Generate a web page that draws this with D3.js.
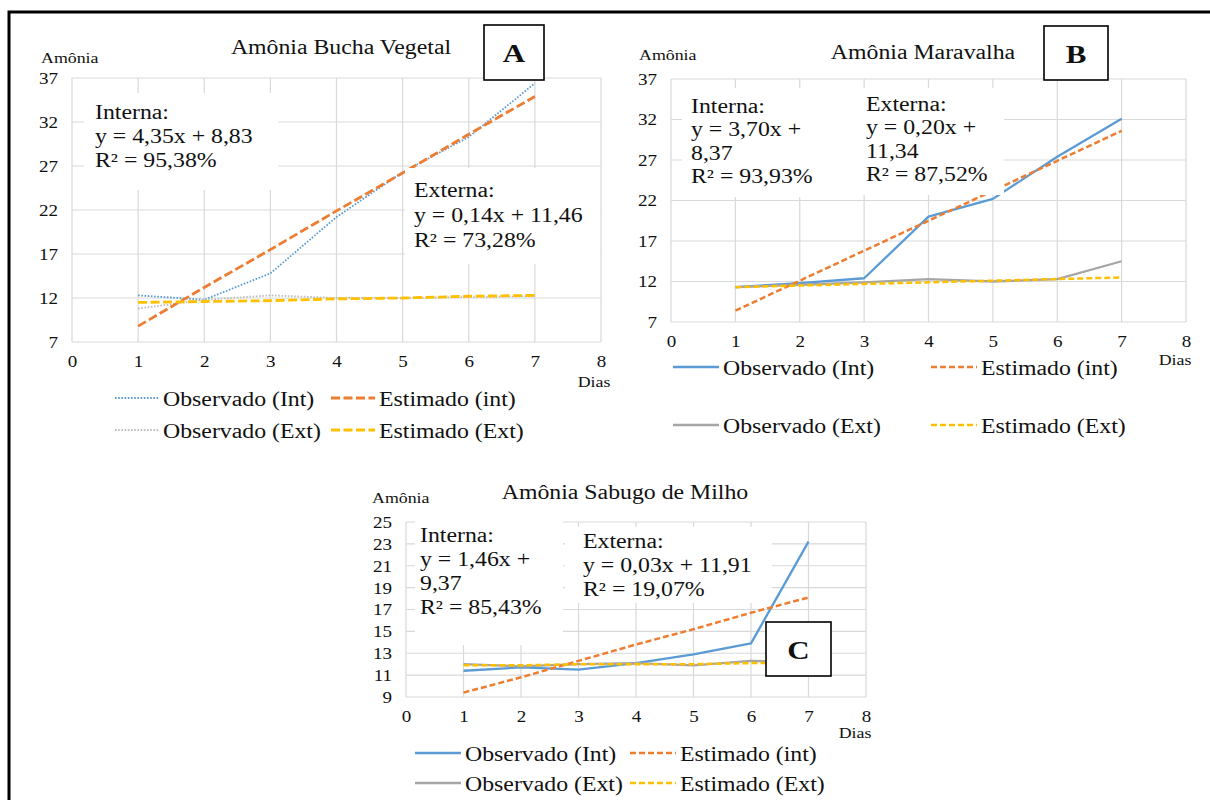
<!DOCTYPE html>
<html>
<head>
<meta charset="utf-8">
<script src="https://cdn.jsdelivr.net/npm/d3@7"></script>
<style>
  html, body { margin: 0; padding: 0; background: #fff; }
  svg text { font-family: "Liberation Serif", "Times New Roman", serif; fill: #111; }
</style>
</head>
<body>
<svg id="chart" width="1210" height="800"></svg>
<script>
// values
const days = [1, 2, 3, 4, 5, 6, 7]
const xTicks = [0, 1, 2, 3, 4, 5, 6, 7, 8]
const yTicksAB = [7, 12, 17, 22, 27, 32, 37]
const yTicksC = [9, 11, 13, 15, 17, 19, 21, 23, 25]

const seriesNames = ["Observado (Int)", "Estimado (int)", "Observado (Ext)", "Estimado (Ext)"]

const titleA = "Amônia Bucha Vegetal"
const obsIntA = [12.3, 11.8, 14.8, 21.2, 26.3, 30.3, 36.4]
const estIntA = [8.8, 13.2, 17.5, 21.9, 26.2, 30.6, 34.9]
const obsExtA = [10.8, 11.8, 12.3, 12.0, 12.0, 12.1, 12.2]
const estExtA = [11.5, 11.6, 11.7, 11.9, 12.0, 12.2, 12.3]
const internaA = ["Interna:", "y = 4,35x + 8,83", "R² = 95,38%"]
const externaA = ["Externa:", "y = 0,14x + 11,46", "R² = 73,28%"]

const titleB = "Amônia Maravalha"
const obsIntB = [11.3, 11.8, 12.4, 20.0, 22.2, 27.4, 32.1]
const estIntB = [8.4, 12.1, 15.8, 19.5, 23.2, 26.9, 30.6]
const obsExtB = [11.3, 11.6, 11.9, 12.3, 12.0, 12.3, 14.5]
const estExtB = [11.3, 11.5, 11.7, 11.9, 12.1, 12.3, 12.5]
const internaB = ["Interna:", "y = 3,70x +", "8,37", "R² = 93,93%"]
const externaB = ["Externa:", "y = 0,20x +", "11,34", "R² = 87,52%"]

const titleC = "Amônia Sabugo de Milho"
const obsIntC = [11.4, 11.7, 11.5, 12.1, 12.9, 13.9, 23.2]
const estIntC = [9.4, 10.8, 12.3, 13.8, 15.2, 16.7, 18.1]
const obsExtC = [12.0, 11.8, 12.0, 12.1, 11.9, 12.3, 12.2]
const estExtC = [11.9, 11.9, 12.0, 12.0, 12.0, 12.1, 12.1]
const internaC = ["Interna:", "y = 1,46x +", "9,37", "R² = 85,43%"]
const externaC = ["Externa:", "y = 0,03x + 11,91", "R² = 19,07%"]

const colors = { obsInt: "#5B9BD5", estInt: "#ED7D31", obsExt: "#A5A5A5", estExt: "#FFC000" }
const SX = 1.19  // the picture's text is stretched sideways
const FONT = '"Liberation Serif", "Times New Roman", serif'

const svg = d3.select("#chart")

// outer frame
svg.append("path")
    .attr("d", "M9,800 V12 H1210")
    .attr("fill", "none")
    .attr("stroke", "#000")
    .attr("stroke-width", 3)

function stext(g, x, y, s, size, anchor = "start", weight = "normal") {
    return g.append("text")
        .attr("transform", `translate(${x},${y}) scale(${SX},1)`)
        .attr("text-anchor", anchor)
        .attr("dominant-baseline", "central")
        .style("font-family", FONT)
        .style("font-size", `${size}px`)
        .style("font-weight", weight)
        .text(s)
}

function drawPanel(p) {
    const g = svg.append("g")
    const x = d3.scaleLinear().domain([0, 8]).range([p.x0, p.x1])
    const y = d3.scaleLinear().domain(d3.extent(p.yTicks)).range([p.y1, p.y0])

    // gridlines
    g.append("g")
        .selectAll("line")
        .data(p.yTicks)
        .join("line")
        .attr("x1", p.x0).attr("x2", p.x1)
        .attr("y1", d => y(d)).attr("y2", d => y(d))
        .attr("stroke", "#D9D9D9").attr("stroke-width", 1.2)
    g.append("g")
        .selectAll("line")
        .data(xTicks)
        .join("line")
        .attr("y1", p.y0).attr("y2", p.y1)
        .attr("x1", d => x(d)).attr("x2", d => x(d))
        .attr("stroke", "#D9D9D9").attr("stroke-width", 1.2)

    // tick labels
    const ya = g.append("g")
        .attr("transform", `translate(${p.x0},0)`)
        .call(d3.axisLeft(y).tickValues(p.yTicks).tickSize(0).tickFormat(d3.format("d")))
    ya.select(".domain").remove()
    ya.selectAll("text")
        .attr("x", null).attr("dy", null)
        .attr("dominant-baseline", "central")
        .attr("transform", `translate(-14,0) scale(${SX},1)`)
        .style("font-family", FONT)
        .style("font-size", "16px")

    const xa = g.append("g")
        .attr("transform", `translate(0,${p.y1})`)
        .call(d3.axisBottom(x).tickValues(xTicks).tickSize(0).tickFormat(d3.format("d")))
    xa.select(".domain").remove()
    xa.selectAll("text")
        .attr("y", null).attr("dy", null)
        .attr("dominant-baseline", "central")
        .attr("transform", `translate(0,20) scale(${SX},1)`)
        .style("font-family", FONT)
        .style("font-size", "16px")

    stext(g, p.yTitle[0], p.yTitle[1], "Amônia", 15)
    stext(g, p.xTitle[0], p.xTitle[1], "Dias", 15, "middle")

    // series
    const line = d3.line().x((d, i) => x(days[i])).y(d => y(d))
    const draw = (vals, color, dash, w) => g.append("path")
        .datum(vals)
        .attr("d", line)
        .attr("fill", "none")
        .attr("stroke", color)
        .attr("stroke-width", w)
        .attr("stroke-dasharray", dash)
        .attr("stroke-linejoin", "round")

    draw(p.obsInt, colors.obsInt, p.obsDash, p.obsW)
    draw(p.obsExt, p.extColor || colors.obsExt, p.obsDash, p.obsW)
    draw(p.estInt, colors.estInt, p.estDash, p.estW)
    draw(p.estExt, colors.estExt, p.estDash, p.estW)

    // trendline labels
    for (const lab of p.labels) {
        g.append("rect")
            .attr("x", lab.box[0]).attr("y", lab.box[1])
            .attr("width", lab.box[2] - lab.box[0]).attr("height", lab.box[3] - lab.box[1])
            .attr("fill", "#fff")
        lab.lines.forEach((s, i) => stext(g, lab.x, lab.y + i * lab.dy, s, 20))
    }

    stext(g, p.title[0], p.title[1], p.titleText, 20, "middle")

    // legend
    const kinds = [
        [colors.obsInt, p.obsDash, p.obsW],
        [colors.estInt, p.estDash, p.estW],
        [p.extColor || colors.obsExt, p.obsDash, p.obsW],
        [colors.estExt, p.estDash, p.estW]
    ]
    seriesNames.forEach((name, i) => {
        const col = i % 2, row = Math.floor(i / 2)
        const lx = p.legend.cols[col], ly = p.legend.rows[row]
        const [c, dash, w] = kinds[i]
        g.append("line")
            .attr("x1", lx).attr("x2", lx + p.legend.len)
            .attr("y1", ly).attr("y2", ly)
            .attr("stroke", c).attr("stroke-width", w)
            .attr("stroke-dasharray", dash)
        stext(g, lx + p.legend.len + 4, ly + 1, name, 20)
    })

    // panel letter
    g.append("rect")
        .attr("x", p.badge[0]).attr("y", p.badge[1])
        .attr("width", p.badge[2] - p.badge[0]).attr("height", p.badge[3] - p.badge[1])
        .attr("fill", "#fff").attr("stroke", "#000").attr("stroke-width", 1.6)
    stext(g, (p.badge[0] + p.badge[2]) / 2, (p.badge[1] + p.badge[3]) / 2 + 1, p.letter, 26, "middle", "bold")
}

drawPanel({
    x0: 72, x1: 601, y0: 78, y1: 342, yTicks: yTicksAB,
    obsInt: obsIntA, estInt: estIntA, obsExt: obsExtA, estExt: estExtA,
    obsDash: "1.6,1.6", obsW: 1.8, estDash: "9,3.5", estW: 2.8, extColor: "#BDBDBD",
    titleText: titleA, title: [341, 47], yTitle: [41, 58], xTitle: [594, 382],
    labels: [
        { box: [84, 93, 278, 190], x: 95, y: 112, dy: 24, lines: internaA },
        { box: [405, 168, 600, 264], x: 414, y: 190, dy: 25, lines: externaA }
    ],
    legend: { cols: [115, 331], rows: [398, 430], len: 44 },
    badge: [484, 25, 544, 80], letter: "A"
})

drawPanel({
    x0: 671, x1: 1186, y0: 79, y1: 322, yTicks: yTicksAB,
    obsInt: obsIntB, estInt: estIntB, obsExt: obsExtB, estExt: estExtB,
    obsDash: null, obsW: 2.3, estDash: "6,3", estW: 2.5,
    titleText: titleB, title: [923, 52], yTitle: [639, 55], xTitle: [1175, 360],
    labels: [
        { box: [682, 88, 860, 197], x: 691, y: 106, dy: 23.5, lines: internaB },
        { box: [860, 88, 1004, 195], x: 866, y: 104, dy: 23.5, lines: externaB }
    ],
    legend: { cols: [673, 931], rows: [367, 425], len: 46 },
    badge: [1044, 26, 1108, 80], letter: "B"
})

drawPanel({
    x0: 406, x1: 866, y0: 522, y1: 697, yTicks: yTicksC,
    obsInt: obsIntC, estInt: estIntC, obsExt: obsExtC, estExt: estExtC,
    obsDash: null, obsW: 2.3, estDash: "6,3", estW: 2.5,
    titleText: titleC, title: [625, 492], yTitle: [372, 498], xTitle: [855, 733],
    labels: [
        { box: [415, 515, 563, 645], x: 420, y: 535, dy: 24, lines: internaC },
        { box: [565, 527, 772, 603], x: 583, y: 541, dy: 24, lines: externaC }
    ],
    legend: { cols: [415, 630], rows: [753, 783], len: 46 },
    badge: [766, 622, 831, 676], letter: "C"
})
</script>
</body>
</html>
